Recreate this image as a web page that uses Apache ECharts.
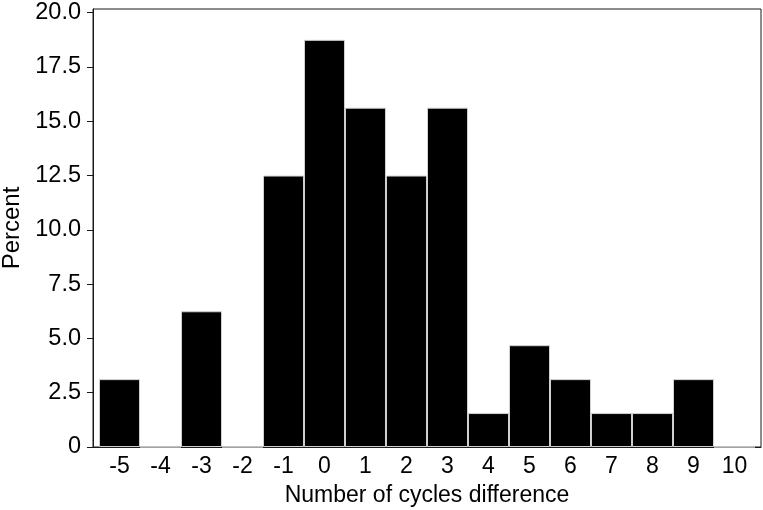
<!DOCTYPE html>
<html>
<head>
<meta charset="utf-8">
<script src="https://cdn.jsdelivr.net/npm/echarts@6/dist/echarts.min.js"></script>
<style>
  html, body { margin: 0; padding: 0; background: #fff; }
  #view { width: 763px; height: 510px; }
</style>
</head>
<body>
<div id="view"></div>
<script>
// histogram bins (number of cycles difference) and percent in each bin
let cycleDiff = [-5, -4, -3, -2, -1, 0, 1, 2, 3, 4, 5, 6, 7, 8, 9, 10];
let percentList = [3.125, 0, 6.25, 0, 12.5, 18.75, 15.625, 12.5, 15.625, 1.5625, 4.6875, 3.125, 1.5625, 1.5625, 3.125, 0];
let yTickValues = [0, 2.5, 5, 7.5, 10, 12.5, 15, 17.5, 20];

let font = "Liberation Sans, Arial, sans-serif";

let myChart = echarts.init(document.getElementById("view"));

let barData = [];
cycleDiff.forEach((x, i) => {
  barData.push([x, percentList[i]]);
});

let option = {
  backgroundColor: "#fff",
  animation: false,
  grid: {
    left: 93,
    right: 2,
    top: 9,
    bottom: 63,
    outerBoundsMode: "none",
    containLabel: false,
    show: true,
    borderColor: "#1a1a1a",
    borderWidth: 1,
  },
  xAxis: {
    type: "value",
    min: -5.646,
    max: 10.646,
    name: "Number of cycles difference",
    nameLocation: "middle",
    nameGap: 37,
    nameTextStyle: { fontFamily: font, fontSize: 23, color: "#000" },
    splitLine: { show: false },
    axisLine: { show: true, onZero: false, lineStyle: { color: "#1a1a1a" } },
    axisTick: { show: false },
    axisLabel: {
      customValues: cycleDiff,
      margin: 8,
      fontFamily: font,
      fontSize: 23,
      color: "#000",
    },
  },
  yAxis: {
    type: "value",
    min: 0,
    max: 20.17,
    name: "Percent",
    nameLocation: "middle",
    nameGap: 68,
    nameTextStyle: { fontFamily: font, fontSize: 24, color: "#000" },
    splitLine: { show: false },
    axisLine: { show: true, onZero: false, lineStyle: { color: "#1a1a1a" } },
    axisTick: {
      show: true,
      customValues: yTickValues,
      length: 6,
      lineStyle: { color: "#1a1a1a" },
    },
    axisLabel: {
      customValues: yTickValues,
      margin: 12,
      fontFamily: font,
      fontSize: 23.5,
      color: "#000",
      formatter: (v) => (v === 0 ? "0" : v.toFixed(1)),
    },
  },
  series: [
    {
      type: "bar",
      data: barData,
      barWidth: 41,
      itemStyle: {
        color: "#000",
        borderColor: "#d0d0d0",
        borderWidth: 1,
      },
    },
  ],
};
myChart.setOption(option);
</script>
</body>
</html>
